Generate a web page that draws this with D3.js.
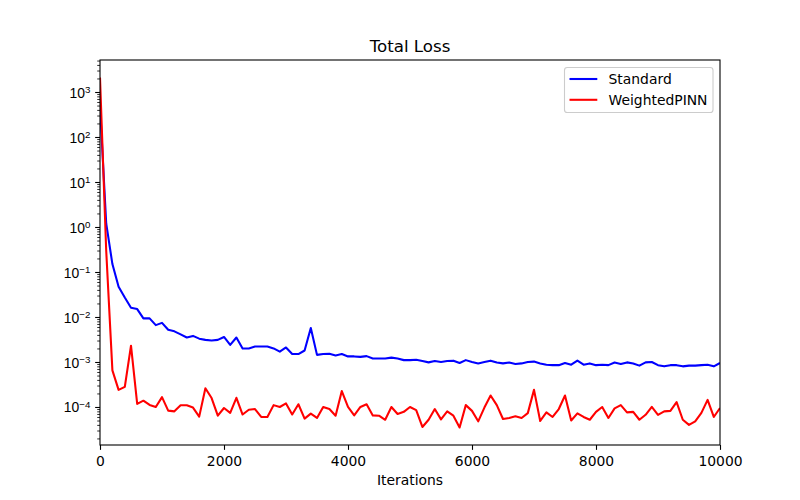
<!DOCTYPE html>
<html>
<head>
<meta charset="utf-8">
<script src="https://cdn.jsdelivr.net/npm/d3@7"></script>
<style>
  html, body { margin: 0; padding: 0; background: #fff; }
  svg { display: block; font-family: "DejaVu Sans", sans-serif; }
</style>
</head>
<body>
<svg id="chart" width="800" height="500"></svg>
<script>
const iterations = [0,100,200,300,400,500,600,700,800,900,1000,1100,1200,1300,1400,1500,1600,1700,1800,1900,2000,2100,2200,2300,2400,2500,2600,2700,2800,2900,3000,3100,3200,3300,3400,3500,3600,3700,3800,3900,4000,4100,4200,4300,4400,4500,4600,4700,4800,4900,5000,5100,5200,5300,5400,5500,5600,5700,5800,5900,6000,6100,6200,6300,6400,6500,6600,6700,6800,6900,7000,7100,7200,7300,7400,7500,7600,7700,7800,7900,8000,8100,8200,8300,8400,8500,8600,8700,8800,8900,9000,9100,9200,9300,9400,9500,9600,9700,9800,9900,10000];

const standardLoss = [500,1.2,0.15,0.047,0.027,0.016,0.015,0.0093,0.0093,0.0066,
  0.0074,0.0052,0.0048,0.0041,0.0035,0.0038,0.0033,0.0031,0.0030,0.0031,
  0.0036,0.0024,0.0035,0.0020,0.0020,0.0022,0.0022,0.0022,0.0020,0.0017,
  0.0021,0.0015,0.0015,0.0018,0.0057,0.00144,0.0015,0.00152,0.0014,0.0015,
  0.00133,0.00133,0.0013,0.00135,0.0012,0.0012,0.0012,0.00125,0.0012,0.0011,
  0.0011,0.00112,0.00105,0.00098,0.00105,0.001,0.00105,0.00107,0.00095,0.0011,
  0.001,0.00093,0.001,0.00107,0.00097,0.00093,0.00097,0.0009,0.00093,0.001,
  0.00102,0.00093,0.00087,0.00085,0.00085,0.00095,0.00087,0.00107,0.00087,0.00093,
  0.00085,0.00087,0.00085,0.00097,0.0009,0.00098,0.00093,0.00083,0.00098,0.001,
  0.00085,0.0008,0.00085,0.00085,0.0008,0.00083,0.00083,0.00085,0.00087,0.0008,
  0.00095];

const weightedLoss = [2100,0.3,0.00065,0.00024,0.00028,0.0023,0.000117,0.000138,0.000111,0.0001,
  0.000166,0.000083,0.00008,0.000109,0.000109,0.000097,0.000061,0.00026,0.000158,0.000064,
  0.000095,0.000074,0.00016,0.000068,0.000087,0.00009,0.00006,0.00006,0.00011,0.0001,
  0.00012,0.000068,0.000115,0.000055,0.000071,0.000057,0.0001,0.00009,0.000064,0.000226,
  0.0001,0.000065,0.0001,0.000115,0.000065,0.000064,0.000052,0.0001,0.00007,0.000078,
  0.0001,0.000085,0.000036,0.000052,0.00009,0.000053,0.00008,0.000064,0.000035,0.00011,
  0.000082,0.000048,0.000097,0.00018,0.00011,0.000054,0.000057,0.000062,0.000057,0.000073,
  0.00024,0.000049,0.000076,0.00006,0.00009,0.00018,0.00005,0.000072,0.00006,0.000052,
  0.000078,0.0001,0.000057,0.000093,0.00011,0.000076,0.000078,0.000052,0.000067,0.000101,
  0.000067,0.00008,0.000082,0.000128,0.000052,0.00004,0.000048,0.000074,0.000144,0.00006,
  0.000095];

const seriesNames = ["Standard", "WeightedPINN"];
const seriesColors = ["#0000ff", "#ff0000"];
const xTickValues = [0, 2000, 4000, 6000, 8000, 10000];
const yMajorExponents = [-4, -3, -2, -1, 0, 1, 2, 3];
const titleText = "Total Loss";
const xLabelText = "Iterations";

const svg = d3.select("#chart");
const margin = {left: 100, right: 80, top: 60, bottom: 55};
const W = 800, H = 500;

const x = d3.scaleLinear().domain([0, 10000]).range([margin.left, W - margin.right]);

const allVals = standardLoss.concat(weightedLoss);
const lmin = Math.log10(d3.min(allVals)), lmax = Math.log10(d3.max(allVals));
const pad = 0.05 * (lmax - lmin);
const y = d3.scaleLog().domain([Math.pow(10, lmin - pad), Math.pow(10, lmax + pad)])
  .range([H - margin.bottom, margin.top]);

// minor ticks
const [d0, d1] = y.domain();
const minorVals = [];
for (let e = Math.floor(Math.log10(d0)); e <= Math.ceil(Math.log10(d1)); e++) {
  for (let m = 2; m <= 9; m++) {
    const v = m * Math.pow(10, e);
    if (v >= d0 && v <= d1) minorVals.push(v);
  }
}

const clipId = "clip";
svg.append("defs").append("clipPath").attr("id", clipId)
  .append("rect").attr("x", margin.left).attr("y", margin.top)
  .attr("width", W - margin.left - margin.right).attr("height", H - margin.top - margin.bottom);

// lines
const line = d3.line().x((d, i) => x(iterations[i])).y(d => y(d));
[standardLoss, weightedLoss].forEach((s, k) => {
  svg.append("path").datum(s)
    .attr("d", line)
    .attr("fill", "none")
    .attr("stroke", seriesColors[k])
    .attr("stroke-width", 2.08)
    .attr("stroke-linejoin", "round")
    .attr("stroke-linecap", "butt")
    .attr("clip-path", `url(#${clipId})`);
});

// y minor axis
const yMinor = svg.append("g").attr("transform", `translate(${margin.left},0)`)
  .call(d3.axisLeft(y).tickValues(minorVals).tickSize(2.78).tickFormat(""));
yMinor.select(".domain").remove();
yMinor.selectAll("line").attr("stroke", "#000").attr("stroke-width", 0.83);

// y major axis
const yMajor = svg.append("g").attr("transform", `translate(${margin.left},0)`)
  .call(d3.axisLeft(y).tickValues(yMajorExponents.map(e => Math.pow(10, e))).tickSize(4.86).tickPadding(4.86).tickFormat(""));
yMajor.select(".domain").remove();
yMajor.selectAll("line").attr("stroke", "#000").attr("stroke-width", 1.1);
yMajor.selectAll(".tick").each(function(d) {
  const e = Math.round(Math.log10(d));
  const t = d3.select(this).append("text")
    .attr("x", -9.7).attr("y", 0).attr("dy", "0.36em")
    .attr("text-anchor", "end").attr("fill", "#000")
    .style("font-size", "13.9px");
  t.append("tspan").text("10");
  t.append("tspan").attr("dy", "-0.45em").style("font-size", "9.7px")
    .text(e < 0 ? "\u2212" + Math.abs(e) : String(e));
});

// x axis
const xAxis = svg.append("g").attr("transform", `translate(0,${H - margin.bottom})`)
  .call(d3.axisBottom(x).tickValues(xTickValues).tickSize(4.86).tickPadding(4.86).tickFormat(d3.format("d")));
xAxis.select(".domain").remove();
xAxis.selectAll("line").attr("stroke", "#000").attr("stroke-width", 1.1);
xAxis.selectAll("text").attr("fill", "#000").style("font-size", "13.9px")
  .attr("font-family", "DejaVu Sans").attr("dy", "0.78em");

// spines
svg.append("rect").attr("x", margin.left).attr("y", margin.top)
  .attr("width", W - margin.left - margin.right).attr("height", H - margin.top - margin.bottom)
  .attr("fill", "none").attr("stroke", "#000").attr("stroke-width", 1.1);

// title and label
svg.append("text").attr("x", (margin.left + W - margin.right) / 2).attr("y", 52)
  .attr("text-anchor", "middle").style("font-size", "16.67px").attr("fill", "#000").text(titleText);
svg.append("text").attr("x", (margin.left + W - margin.right) / 2).attr("y", 485)
  .attr("text-anchor", "middle").style("font-size", "13.9px").attr("fill", "#000").text(xLabelText);

// legend
const lg = svg.append("g");
lg.append("rect").attr("x", 564.5).attr("y", 67.5).attr("width", 148.5).attr("height", 45)
  .attr("rx", 2.8).attr("fill", "#fff").attr("fill-opacity", 0.8)
  .attr("stroke", "#cccccc").attr("stroke-width", 1.1);
seriesNames.forEach((n, k) => {
  const cy = 79 + k * 20.8;
  lg.append("line").attr("x1", 569.5).attr("x2", 597.3).attr("y1", cy).attr("y2", cy)
    .attr("stroke", seriesColors[k]).attr("stroke-width", 2.08);
  lg.append("text").attr("x", 608.5).attr("y", cy).attr("dy", "0.36em")
    .style("font-size", "13.9px").attr("fill", "#000").text(n);
});
</script>
</body>
</html>
